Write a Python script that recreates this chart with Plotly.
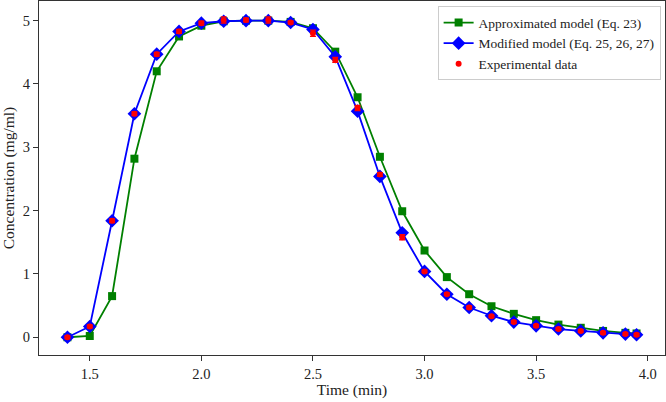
import plotly.graph_objects as go

time = [1.4, 1.5, 1.6, 1.7, 1.8, 1.9, 2.0, 2.1, 2.2, 2.3, 2.4, 2.5, 2.6, 2.7, 2.8,
        2.9, 3.0, 3.1, 3.2, 3.3, 3.4, 3.5, 3.6, 3.7, 3.8, 3.9, 3.95]

approx_model = [0.0, 0.02, 0.65, 2.82, 4.20, 4.75, 4.92, 4.99, 5.00, 5.00, 4.98, 4.88, 4.51,
                3.79, 2.85, 1.99, 1.37, 0.95, 0.68, 0.49, 0.37, 0.27, 0.20, 0.15, 0.10,
                0.07, 0.06]

modified_model = [0.0, 0.17, 1.84, 3.53, 4.47, 4.83, 4.96, 4.99, 5.00, 5.00, 4.97, 4.86, 4.43,
                  3.57, 2.54, 1.65, 1.04, 0.68, 0.47, 0.34, 0.24, 0.18, 0.13, 0.10, 0.07,
                  0.05, 0.04]

experimental = [0.0, 0.17, 1.84, 3.53, 4.47, 4.83, 4.96, 5.01, 5.01, 5.01, 4.97, 4.80, 4.38,
                3.62, 2.57, 1.58, 1.04, 0.68, 0.47, 0.33, 0.24, 0.18, 0.13, 0.10, 0.07,
                0.05, 0.04]

exp_error = [0.02, 0.02, 0.03, 0.03, 0.03, 0.03, 0.03, 0.05, 0.03, 0.05, 0.02, 0.05, 0.04,
             0.04, 0.03, 0.04, 0.02, 0.02, 0.02, 0.02, 0.02, 0.02, 0.02, 0.02, 0.02,
             0.02, 0.02]

x_ticks = [1.5, 2.0, 2.5, 3.0, 3.5, 4.0]
x_tick_labels = ["1.5", "2.0", "2.5", "3.0", "3.5", "4.0"]
y_ticks = [0, 1, 2, 3, 4, 5]

FONT = "Liberation Serif"

fig = go.Figure()
fig.add_trace(go.Scatter(
    x=time, y=approx_model, mode="lines+markers",
    name="Approximated model (Eq. 23)",
    line=dict(color="green", width=1.8),
    marker=dict(symbol="square", size=8, color="green"),
))
fig.add_trace(go.Scatter(
    x=time, y=modified_model, mode="lines+markers",
    name="Modified model (Eq. 25, 26, 27)",
    line=dict(color="blue", width=1.8),
    marker=dict(symbol="diamond", size=10.5, color="blue"),
))
fig.add_trace(go.Scatter(
    x=time, y=experimental, mode="markers",
    name="Experimental data",
    marker=dict(symbol="circle", size=6, color="red"),
    error_y=dict(type="data", array=exp_error, visible=True,
                 color="red", thickness=1.3, width=3),
))

fig.update_layout(
    width=666, height=402,
    margin=dict(l=39, r=1, t=1, b=47),
    paper_bgcolor="white", plot_bgcolor="white",
    font=dict(family=FONT, size=14, color="#222"),
    showlegend=True,
    legend=dict(
        x=0.993, y=0.985, xanchor="right", yanchor="top",
        bgcolor="rgba(255,255,255,0.8)", bordercolor="#cccccc", borderwidth=1,
        font=dict(family=FONT, size=13.5, color="#222"),
        tracegroupgap=0, itemwidth=30,
    ),
    xaxis=dict(
        range=[1.2725, 4.0775],
        tickvals=x_ticks, ticktext=x_tick_labels,
        ticks="outside", ticklen=5, tickwidth=1, tickcolor="#333",
        showgrid=False, zeroline=False,
        showline=True, linecolor="#333", linewidth=1.2, mirror=True,
        title=dict(text="Time (min)", font=dict(family=FONT, size=15.5), standoff=2),
        tickfont=dict(family=FONT, size=14.5),
    ),
    yaxis=dict(
        range=[-0.28, 5.31],
        tickvals=y_ticks,
        ticks="outside", ticklen=5, tickwidth=1, tickcolor="#333",
        showgrid=False, zeroline=False,
        showline=True, linecolor="#333", linewidth=1.2, mirror=True,
        title=dict(text="Concentration (mg/ml)", font=dict(family=FONT, size=15.5), standoff=4),
        tickfont=dict(family=FONT, size=14.5),
    ),
)

fig.write_html("out.html")
